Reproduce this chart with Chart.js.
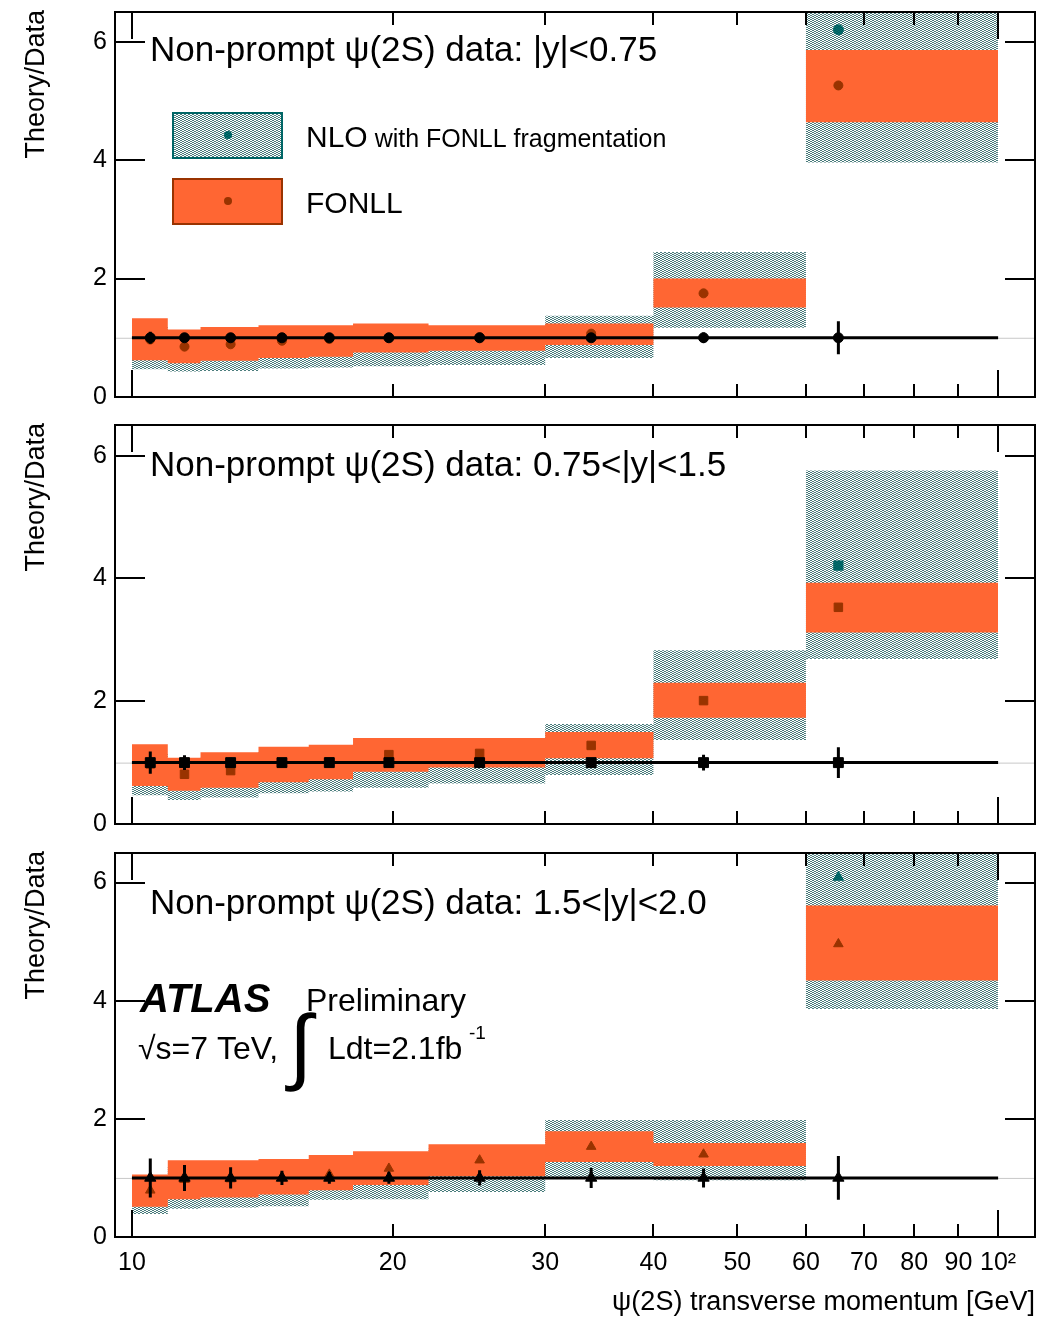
<!DOCTYPE html>
<html>
<head>
<meta charset="utf-8">
<script src="https://cdn.jsdelivr.net/npm/chart.js@4.4.1/dist/chart.umd.min.js"></script>
<style>
  body { margin: 0; background: #fff; width: 1045px; height: 1319px; position: relative; overflow: hidden; }
  .pad { position: absolute; left: 0; width: 1045px; background: #fff; }
  .pad canvas { display: block; }
</style>
</head>
<body>
<div class="pad" style="top:0px;height:413px"><canvas id="pad1" width="1045" height="413"></canvas></div>
<div class="pad" style="top:413px;height:427px"><canvas id="pad2" width="1045" height="427"></canvas></div>
<div class="pad" style="top:840px;height:479px"><canvas id="pad3" width="1045" height="479"></canvas></div>
<script>
// pT bins [GeV] and the mean pT of each bin
var binEdges = [10, 11, 12, 14, 16, 18, 22, 30, 40, 60, 100];
var binCentres = [10.5, 11.5, 13.0, 14.9, 16.9, 19.8, 25.2, 33.9, 45.7, 65.4];
var xTickValues = [10, 20, 30, 40, 50, 60, 70, 80, 90, 100];
var xTickLabels = ['10', '20', '30', '40', '50', '60', '70', '80', '90', '10²'];
var yTickValues = [0, 2, 4, 6];
var unityLine = 1;

// |y| < 0.75
var dataRatio1 = [1, 1, 1, 1, 1, 1, 1, 1, 1, 1];
var dataErr1 = [0.10, 0.05, 0.04, 0.04, 0.04, 0.04, 0.04, 0.05, 0.09, 0.28];
var fonllCentral1 = [0.97, 0.85, 0.89, 0.95, 0.98, 1.00, 1.01, 1.07, 1.75, 5.26];
var fonllHigh1 = [1.33, 1.14, 1.18, 1.21, 1.21, 1.24, 1.21, 1.24, 2.00, 5.86];
var fonllLow1 = [0.62, 0.57, 0.61, 0.66, 0.68, 0.75, 0.78, 0.88, 1.51, 4.64];
var nloCentral1 = [0.90, 0.80, 0.84, 0.88, 0.90, 0.95, 0.97, 1.02, 1.80, 6.20];
var nloHigh1 = [1.20, 1.05, 1.10, 1.15, 1.15, 1.18, 1.18, 1.37, 2.45, 6.90];
var nloLow1 = [0.47, 0.43, 0.44, 0.48, 0.50, 0.52, 0.54, 0.66, 1.17, 3.96];

// 0.75 < |y| < 1.5
var dataRatio2 = [1, 1, 1, 1, 1, 1, 1, 1, 1, 1];
var dataErr2 = [0.18, 0.12, 0.08, 0.05, 0.05, 0.06, 0.05, 0.06, 0.13, 0.25];
var fonllCentral2 = [0.98, 0.81, 0.87, 1.00, 1.01, 1.13, 1.15, 1.28, 2.01, 3.53];
var fonllHigh2 = [1.30, 1.08, 1.17, 1.26, 1.29, 1.40, 1.40, 1.50, 2.30, 3.93];
var fonllLow2 = [0.62, 0.54, 0.59, 0.68, 0.73, 0.85, 0.92, 1.07, 1.73, 3.12];
var nloCentral2 = [0.90, 0.75, 0.80, 0.92, 0.95, 1.05, 1.10, 1.20, 2.05, 4.21];
var nloHigh2 = [1.15, 1.00, 1.08, 1.18, 1.20, 1.30, 1.35, 1.63, 2.83, 5.76];
var nloLow2 = [0.47, 0.39, 0.43, 0.50, 0.53, 0.59, 0.66, 0.80, 1.37, 2.69];

// 1.5 < |y| < 2.0
var dataRatio3 = [1, 1, 1, 1, 1, 1, 1, 1, 1, 1];
var dataErr3 = [0.33, 0.22, 0.18, 0.12, 0.10, 0.10, 0.13, 0.17, 0.16, 0.37];
var fonllCentral3 = [0.79, 0.97, 0.98, 1.02, 1.06, 1.16, 1.30, 1.53, 1.40, 4.96];
var fonllHigh3 = [1.06, 1.30, 1.30, 1.32, 1.39, 1.45, 1.57, 1.79, 1.59, 5.61];
var fonllLow3 = [0.51, 0.64, 0.67, 0.72, 0.79, 0.88, 1.03, 1.27, 1.20, 4.34];
var nloCentral3 = [0.75, 0.90, 0.92, 0.95, 1.00, 1.08, 1.20, 1.50, 1.42, 6.09];
var nloHigh3 = [1.00, 1.20, 1.22, 1.25, 1.30, 1.38, 1.50, 1.98, 1.98, 6.90];
var nloLow3 = [0.39, 0.48, 0.50, 0.52, 0.63, 0.64, 0.76, 1.00, 0.96, 3.86];

var FONT = '"Liberation Sans", Arial, Helvetica, sans-serif';
var TEAL = '#006666';
var FONLL_FILL = '#ff6633';
var FONLL_DARK = '#993300';

Chart.defaults.font.family = FONT;

// small dotted tile for the NLO band
function dotPattern(color) {
	var c = document.createElement('canvas');
	c.width = 4; c.height = 2;
	var g = c.getContext('2d');
	g.fillStyle = color;
	g.fillRect(0, 0, 2, 1);
	g.fillRect(2, 1, 2, 1);
	return g.createPattern(c, 'repeat');
}
var nloFill = dotPattern('#4a7c7c');

function stepPoints(vals) {
	var pts = vals.map(function(v, i) { return {x: binEdges[i], y: v}; });
	pts.push({x: binEdges[vals.length], y: vals[vals.length - 1]});
	return pts;
}
function markerPoints(vals) {
	return vals.map(function(v, i) { return {x: binCentres[i], y: v}; });
}

function text(ctx, s, x, y, size, style, align) {
	ctx.font = (style || '') + ' ' + size + 'px ' + FONT;
	ctx.textAlign = align || 'left';
	ctx.textBaseline = 'alphabetic';
	ctx.fillStyle = '#000';
	ctx.fillText(s, x, y);
	return ctx.measureText(s).width;
}

function drawLegend(ctx) {
	ctx.save();
	ctx.fillStyle = nloFill;
	ctx.fillRect(172, 112, 111, 47);
	ctx.strokeStyle = TEAL; ctx.lineWidth = 2;
	ctx.strokeRect(173, 113, 109, 45);
	ctx.fillStyle = TEAL;
	ctx.beginPath(); ctx.arc(228, 135, 4, 0, Math.PI * 2); ctx.fill();

	ctx.fillStyle = FONLL_FILL;
	ctx.fillRect(172, 178, 111, 47);
	ctx.strokeStyle = FONLL_DARK;
	ctx.strokeRect(173, 179, 109, 45);
	ctx.fillStyle = FONLL_DARK;
	ctx.beginPath(); ctx.arc(228, 201, 4, 0, Math.PI * 2); ctx.fill();

	var w = text(ctx, 'NLO', 306, 147, 30);
	text(ctx, ' with FONLL fragmentation', 306 + w, 147, 25);
	text(ctx, 'FONLL', 306, 213, 30);
	ctx.restore();
}

function drawAtlas(ctx) {
	ctx.save();
	text(ctx, 'ATLAS', 140, 172, 40, 'italic bold');
	text(ctx, 'Preliminary', 306, 171, 32);
	text(ctx, '√s=7 TeV,', 138, 219, 32);
	ctx.font = '84px ' + FONT;
	ctx.fillText('∫', 289, 234);
	text(ctx, 'Ldt=2.1fb', 328, 219, 32);
	text(ctx, '-1', 469, 199, 19);
	ctx.restore();
}

function decor(p) {
	return {
		id: 'padDecor',
		beforeDatasetsDraw: function(chart) {
			var a = chart.chartArea, ctx = chart.ctx;
			var y = chart.scales.y.getPixelForValue(unityLine);
			ctx.save();
			ctx.strokeStyle = '#c8c8c8'; ctx.lineWidth = 1;
			ctx.beginPath(); ctx.moveTo(a.left, y + 0.5); ctx.lineTo(a.right, y + 0.5); ctx.stroke();
			ctx.restore();
		},
		beforeDatasetDraw: function(chart, args) {
			if (args.index !== 0) return;
			// data: horizontal bin width and vertical uncertainty
			var xs = chart.scales.x, ys = chart.scales.y, ctx = chart.ctx;
			ctx.save();
			ctx.strokeStyle = '#000'; ctx.lineWidth = 3;
			ctx.beginPath();
			for (var i = 0; i < p.ratio.length; i++) {
				var yv = ys.getPixelForValue(p.ratio[i]);
				ctx.moveTo(xs.getPixelForValue(binEdges[i]), yv);
				ctx.lineTo(xs.getPixelForValue(binEdges[i + 1]), yv);
				var xc = xs.getPixelForValue(binCentres[i]);
				ctx.moveTo(xc, ys.getPixelForValue(p.ratio[i] + p.err[i]));
				ctx.lineTo(xc, ys.getPixelForValue(p.ratio[i] - p.err[i]));
			}
			ctx.stroke();
			ctx.restore();
		},
		afterDraw: function(chart) {
			var a = chart.chartArea, ctx = chart.ctx;
			var xs = chart.scales.x, ys = chart.scales.y;
			ctx.save();
			ctx.strokeStyle = '#000'; ctx.lineWidth = 2;
			ctx.strokeRect(a.left, a.top, a.right - a.left, a.bottom - a.top);
			ctx.beginPath();
			xTickValues.forEach(function(v) {
				var x = Math.round(xs.getPixelForValue(v));
				var len = (v === 10 || v === 100) ? 27 : 13;
				ctx.moveTo(x, a.bottom); ctx.lineTo(x, a.bottom - len);
				ctx.moveTo(x, a.top); ctx.lineTo(x, a.top + len);
			});
			yTickValues.forEach(function(v) {
				var y = Math.round(ys.getPixelForValue(v));
				ctx.moveTo(a.left, y); ctx.lineTo(a.left + 30, y);
				ctx.moveTo(a.right, y); ctx.lineTo(a.right - 30, y);
			});
			ctx.stroke();

			text(ctx, p.title, 150, p.titleY, 35);

			ctx.save();
			ctx.translate(37, a.top - 2);
			ctx.rotate(-Math.PI / 2);
			ctx.font = '27px ' + FONT;
			ctx.textAlign = 'right';
			ctx.textBaseline = 'middle';
			ctx.fillStyle = '#000';
			ctx.fillText('Theory/Data', 0, 0);
			ctx.restore();

			if (p.legend) drawLegend(ctx);
			if (p.atlas) drawAtlas(ctx);
			if (p.xTitle) text(ctx, 'ψ(2S) transverse momentum [GeV]', 1035, p.xTitleY, 27, '', 'right');
			ctx.restore();
		}
	};
}

function makePad(id, p) {
	var ctx = document.getElementById(id).getContext('2d');
	return new Chart(ctx, {
		type: 'scatter',
		data: {
			datasets: [
				{ data: markerPoints(p.ratio), pointStyle: p.marker, pointRadius: p.dataR,
				  backgroundColor: '#000', borderColor: '#000', borderWidth: 1, order: 0 },
				{ data: markerPoints(p.fonll), pointStyle: p.marker, pointRadius: p.theoryR,
				  backgroundColor: FONLL_DARK, borderColor: FONLL_DARK, borderWidth: 1, order: 1 },
				{ type: 'line', data: stepPoints(p.fonllHigh), stepped: 'before', fill: 3,
				  backgroundColor: FONLL_FILL, borderColor: 'transparent', borderWidth: 0, pointRadius: 0, order: 2 },
				{ type: 'line', data: stepPoints(p.fonllLow), stepped: 'before', fill: false,
				  borderColor: 'transparent', borderWidth: 0, pointRadius: 0, order: 3 },
				{ data: markerPoints(p.nlo), pointStyle: p.marker, pointRadius: p.theoryR + 0.5,
				  backgroundColor: TEAL, borderColor: TEAL, borderWidth: 1, order: 4 },
				{ type: 'line', data: stepPoints(p.nloHigh), stepped: 'before', fill: 6,
				  backgroundColor: nloFill, borderColor: 'transparent', borderWidth: 0, pointRadius: 0, order: 5 },
				{ type: 'line', data: stepPoints(p.nloLow), stepped: 'before', fill: false,
				  borderColor: 'transparent', borderWidth: 0, pointRadius: 0, order: 6 }
			]
		},
		options: {
			responsive: false,
			animation: false,
			events: [],
			layout: { autoPadding: false, padding: { top: p.top, right: 10, left: 0, bottom: 0 } },
			plugins: { legend: { display: false }, tooltip: { enabled: false } },
			scales: {
				x: {
					type: 'logarithmic', min: 9.56, max: 110.3,
					grid: { display: false, drawTicks: false }, border: { display: false },
					ticks: {
						display: p.xLabels, autoSkip: false, maxRotation: 0, padding: 11,
						color: '#000', font: { size: 25 },
						callback: function(v) {
							var k = xTickValues.indexOf(v);
							return k < 0 ? '' : xTickLabels[k];
						}
					},
					afterBuildTicks: function(s) {
						s.ticks = xTickValues.map(function(v) { return {value: v}; });
					},
					afterFit: function(s) { s.height = p.height - p.bottom; }
				},
				y: {
					min: 0, max: 6.5,
					grid: { display: false, drawTicks: false }, border: { display: false },
					// zero line height keeps the labels from padding the plot area
					ticks: { padding: 8, color: '#000', font: { size: 25, lineHeight: 0 } },
					afterBuildTicks: function(s) {
						s.ticks = yTickValues.map(function(v) { return {value: v}; });
					},
					afterFit: function(s) { s.width = 115; }
				}
			}
		},
		plugins: [decor(p)]
	});
}

makePad('pad1', {
	height: 413, top: 12, bottom: 397, marker: 'circle', dataR: 5, theoryR: 4.5,
	ratio: dataRatio1, err: dataErr1, fonll: fonllCentral1, fonllHigh: fonllHigh1, fonllLow: fonllLow1,
	nlo: nloCentral1, nloHigh: nloHigh1, nloLow: nloLow1,
	title: 'Non-prompt ψ(2S) data: |y|<0.75', titleY: 61, legend: true, xLabels: false
});
makePad('pad2', {
	height: 427, top: 12, bottom: 411, marker: 'rect', dataR: 7, theoryR: 6,
	ratio: dataRatio2, err: dataErr2, fonll: fonllCentral2, fonllHigh: fonllHigh2, fonllLow: fonllLow2,
	nlo: nloCentral2, nloHigh: nloHigh2, nloLow: nloLow2,
	title: 'Non-prompt ψ(2S) data: 0.75<|y|<1.5', titleY: 63, xLabels: false
});
makePad('pad3', {
	height: 479, top: 13, bottom: 397, marker: 'triangle', dataR: 6.5, theoryR: 5.5,
	ratio: dataRatio3, err: dataErr3, fonll: fonllCentral3, fonllHigh: fonllHigh3, fonllLow: fonllLow3,
	nlo: nloCentral3, nloHigh: nloHigh3, nloLow: nloLow3,
	title: 'Non-prompt ψ(2S) data: 1.5<|y|<2.0', titleY: 74, atlas: true, xLabels: true,
	xTitle: true, xTitleY: 470
});
</script>
</body>
</html>
